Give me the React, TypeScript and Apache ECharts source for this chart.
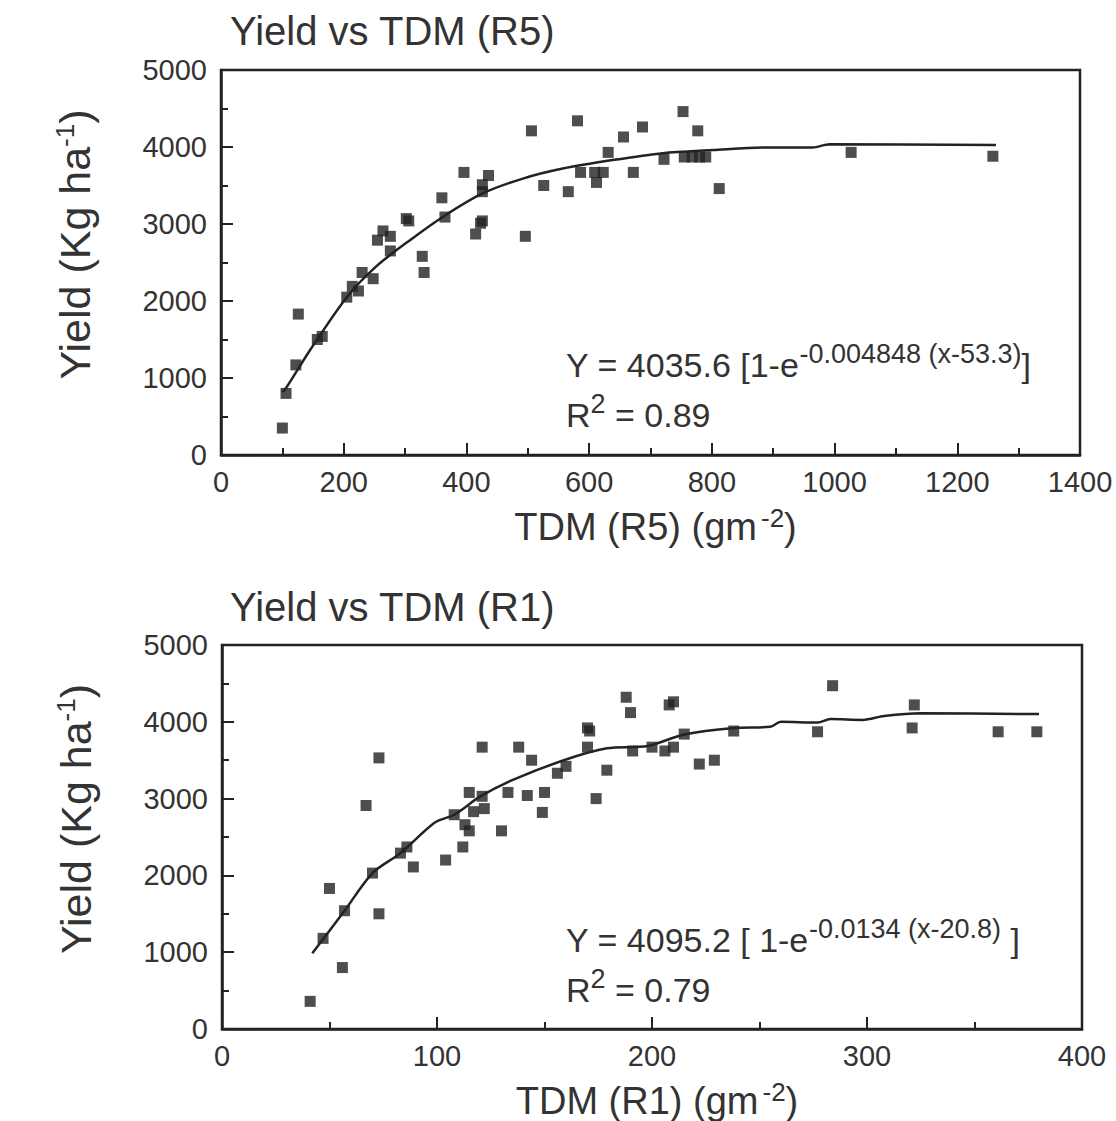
import React, { useEffect, useRef } from "react";
import * as echarts from "echarts";

// ---- Data ----
// Top panel: Yield vs TDM (R5)
const r5X = [100, 106, 122, 126, 157, 165, 205, 214, 224, 230, 248, 255, 264, 276, 276, 302, 306, 328, 331, 360, 365, 396, 415, 423, 426, 426, 426, 436, 496, 506, 526, 566, 581, 586, 609, 612, 623, 631, 656, 672, 687, 722, 755, 753, 768, 780, 777, 790, 812, 1027, 1258];
const r5Y = [350, 800, 1170, 1830, 1500, 1540, 2050, 2190, 2130, 2370, 2290, 2790, 2910, 2840, 2650, 3070, 3040, 2580, 2370, 3340, 3090, 3670, 2870, 3010, 3040, 3420, 3510, 3630, 2840, 4210, 3500, 3420, 4340, 3670, 3670, 3540, 3670, 3930, 4130, 3670, 4260, 3840, 3870, 4460, 3870, 3870, 4210, 3870, 3460, 3930, 3880];
const r5CurveX = [100, 106, 145, 205, 253, 308, 362, 427, 492, 557, 638, 720, 801, 883, 964, 992, 1263];
const r5CurveY = [820, 870, 1360, 2050, 2450, 2790, 3095, 3400, 3590, 3720, 3830, 3920, 3960, 3995, 3995, 4035, 4025];

// Bottom panel: Yield vs TDM (R1)
const r1X = [41, 47, 50, 56, 57, 67, 70, 73, 73, 83, 86, 89, 104, 108, 112, 113, 115, 115, 117, 121, 121, 122, 130, 133, 138, 142, 144, 149, 150, 156, 160, 170, 171, 170, 174, 179, 188, 190, 191, 200, 206, 208, 210, 210, 215, 222, 229, 238, 277, 284, 321, 322, 361, 379];
const r1Y = [360, 1180, 1830, 800, 1540, 2910, 2030, 3530, 1500, 2290, 2370, 2110, 2200, 2790, 2370, 2660, 2580, 3080, 2830, 3030, 3670, 2870, 2580, 3080, 3670, 3040, 3500, 2820, 3080, 3330, 3420, 3920, 3880, 3670, 3000, 3370, 4320, 4120, 3620, 3670, 3620, 4220, 4260, 3670, 3840, 3450, 3500, 3880, 3870, 4470, 3920, 4220, 3870, 3870];
const r1CurveX = [42, 57, 70, 83, 99, 108, 120, 135, 159, 179, 198, 215, 238, 255, 260, 277, 283, 298, 308, 325, 380];
const r1CurveY = [985, 1540, 2030, 2290, 2690, 2790, 3025, 3240, 3500, 3655, 3685, 3835, 3920, 3935, 4000, 3990, 4035, 4025, 4075, 4110, 4100];

const titles = ["Yield vs TDM (R5)", "Yield vs TDM (R1)"];
const xNames = ["TDM (R5) (gm", "TDM (R1) (gm"];
const yName = "Yield (Kg ha";
const eqTop = ["Y = 4035.6 [1-e", "-0.004848 (x-53.3)", "]", " = 0.89"];
const eqBottom = ["Y = 4095.2 [ 1-e", "-0.0134 (x-20.8)", " ]", " = 0.79"];

const FONT = '"Liberation Sans", Arial, Helvetica, sans-serif';
const INK = "#222";
const TXT = "#333";

const zip = (xs: number[], ys: number[]) => xs.map((x, i) => [x, ys[i]]);

function xAxisCfg(gridIndex: number, max: number, interval: number, name: string) {
  return {
    type: "value",
    gridIndex,
    min: 0,
    max,
    interval,
    name: `{n|${name}}{s|-2}{n|)}`,
    nameLocation: "middle",
    nameGap: 50,
    nameTextStyle: {
      padding: [0, 0, 0, 10],
      rich: {
        n: { fontSize: 38, lineHeight: 44, fontFamily: FONT, color: TXT },
        s: { fontSize: 26, lineHeight: 27, verticalAlign: "top", fontFamily: FONT, color: TXT, padding: [0, 0, 0, 4] },
      },
    },
    axisLine: { show: true, onZero: false, lineStyle: { color: INK, width: 2.5 } },
    axisTick: { show: true, inside: true, length: 12, lineStyle: { color: INK, width: 2 } },
    minorTick: { show: true, splitNumber: 2, length: 7, lineStyle: { color: INK, width: 2 } },
    splitLine: { show: false },
    minorSplitLine: { show: false },
    axisLabel: { fontSize: 29, color: TXT, fontFamily: FONT, margin: 12, formatter: (v: number) => String(v) },
  };
}

function yAxisCfg(gridIndex: number) {
  return {
    type: "value",
    gridIndex,
    min: 0,
    max: 5000,
    interval: 1000,
    name: `{m|${yName}}{s|-1}{m|)}`,
    nameLocation: "middle",
    nameGap: 123,
    nameTextStyle: {
      padding: [0, 0, 0, 36],
      rich: {
        m: { fontSize: 43, lineHeight: 46, fontFamily: FONT, color: TXT },
        s: { fontSize: 26, lineHeight: 26, verticalAlign: "top", fontFamily: FONT, color: TXT },
      },
    },
    axisLine: { show: true, onZero: false, lineStyle: { color: INK, width: 2.5 } },
    axisTick: { show: true, inside: true, length: 12, lineStyle: { color: INK, width: 2 } },
    minorTick: { show: true, splitNumber: 2, length: 7, lineStyle: { color: INK, width: 2 } },
    splitLine: { show: false },
    minorSplitLine: { show: false },
    axisLabel: { fontSize: 29, color: TXT, fontFamily: FONT, margin: 14, formatter: (v: number) => String(v) },
  };
}

function eqText(parts: string[], left: number, top: number) {
  return {
    type: "text",
    left,
    top,
    style: {
      text: `{m|${parts[0]}}{s|${parts[1]}}{m|${parts[2]}}\n{m|R}{s|2}{m|${parts[3]}}`,
      rich: {
        m: { fontSize: 34, lineHeight: 50, fontFamily: FONT, fill: TXT },
        s: { fontSize: 27, lineHeight: 38, verticalAlign: "top", fontFamily: FONT, fill: TXT },
      },
    },
  };
}

export default function App() {
  const ref = useRef<HTMLDivElement>(null);

  useEffect(() => {
    if (!ref.current) return;
    const chart = echarts.init(ref.current, null, { renderer: "svg" });
    const titleStyle = { fontSize: 40, fontWeight: "normal", color: TXT, fontFamily: FONT };
    chart.setOption({
      animation: false,
      backgroundColor: "#fff",
      title: [
        { text: titles[0], left: 230, top: 11, padding: 0, textStyle: titleStyle },
        { text: titles[1], left: 230, top: 587, padding: 0, textStyle: titleStyle },
      ],
      grid: [
        { left: 221, top: 70, width: 859, height: 385, show: true, borderColor: INK, borderWidth: 2.5, backgroundColor: "transparent" },
        { left: 222, top: 645, width: 860, height: 384, show: true, borderColor: INK, borderWidth: 2.5, backgroundColor: "transparent" },
      ],
      xAxis: [xAxisCfg(0, 1400, 200, xNames[0]), xAxisCfg(1, 400, 100, xNames[1])],
      yAxis: [yAxisCfg(0), yAxisCfg(1)],
      series: [
        {
          type: "scatter",
          xAxisIndex: 0,
          yAxisIndex: 0,
          symbol: "rect",
          symbolSize: 11,
          itemStyle: { color: INK },
          data: zip(r5X, r5Y),
        },
        {
          type: "line",
          xAxisIndex: 0,
          yAxisIndex: 0,
          showSymbol: false,
          symbol: "none",
          smooth: 0.3,
          lineStyle: { color: INK, width: 2.5 },
          data: zip(r5CurveX, r5CurveY),
        },
        {
          type: "scatter",
          xAxisIndex: 1,
          yAxisIndex: 1,
          symbol: "rect",
          symbolSize: 11,
          itemStyle: { color: INK },
          data: zip(r1X, r1Y),
        },
        {
          type: "line",
          xAxisIndex: 1,
          yAxisIndex: 1,
          showSymbol: false,
          symbol: "none",
          smooth: 0.3,
          lineStyle: { color: INK, width: 2.5 },
          data: zip(r1CurveX, r1CurveY),
        },
      ],
      graphic: [eqText(eqTop, 566, 340), eqText(eqBottom, 566, 915)],
    });
    return () => chart.dispose();
  }, []);

  return (
    <div
      ref={ref}
      style={{ position: "absolute", left: 0, top: 0, width: 1116, height: 1121, background: "#fff" }}
    />
  );
}
